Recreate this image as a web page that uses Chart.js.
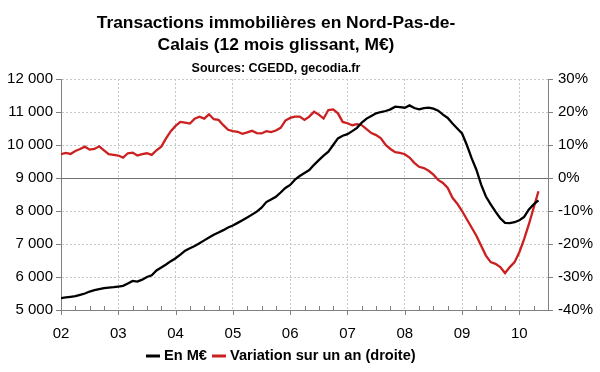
<!DOCTYPE html>
<html><head><meta charset="utf-8">
<script src="https://cdn.jsdelivr.net/npm/chart.js@4.4.1/dist/chart.umd.min.js"></script>
<style>html,body{margin:0;padding:0;background:#fff}#wrap{width:600px;height:372px}</style>
</head><body><div id="wrap"><canvas id="c" width="600" height="372"></canvas></div>
<script>
const titleLines = ["Transactions immobilières en Nord-Pas-de-", "Calais (12 mois glissant, M€)"];
const subtitle = "Sources: CGEDD, gecodia.fr";
const yearLabels = ["02","03","04","05","06","07","08","09","10"];
const legendLabels = ["En M€", "Variation sur un an (droite)"];
// monthly, Jan 2002 .. May 2010
const montant = [5360,5380,5400,5420,5460,5500,5560,5600,5630,5660,5680,5690,
5710,5730,5800,5880,5860,5920,6000,6050,6200,6290,6380,6480,
6570,6680,6800,6870,6940,7020,7110,7200,7280,7350,7420,7500,
7560,7640,7720,7800,7890,7980,8100,8270,8350,8430,8560,8700,
8790,8950,9060,9150,9240,9400,9540,9680,9800,10000,10200,10280,
10330,10420,10520,10680,10800,10880,10960,11000,11030,11080,11160,11150,
11130,11200,11120,11080,11120,11130,11100,11040,10920,10820,10650,10500,
10350,10000,9600,9250,8800,8440,8200,7980,7780,7640,7630,7660,
7720,7820,8050,8200,8320];
const variation = [7.2,7.6,7.3,8.2,8.8,9.5,8.6,8.8,9.6,8.4,7.2,7.0,
6.8,6.2,7.5,7.7,6.8,7.2,7.5,7.0,8.4,9.5,12.0,14.2,
15.8,17.0,16.8,16.5,18.0,18.6,18.0,19.3,17.8,17.6,16.0,14.6,
14.2,14.0,13.4,13.8,14.3,13.6,13.5,14.2,13.9,14.4,15.2,17.4,
18.2,18.6,18.6,17.6,18.6,20.1,19.2,18.0,20.6,20.8,19.6,17.0,
16.6,16.0,16.3,16.0,14.8,13.6,13.0,12.0,10.0,8.8,7.8,7.6,
7.2,6.2,4.6,3.4,3.0,2.2,1.0,-0.6,-1.5,-3.0,-6.0,-7.8,
-10.0,-12.5,-15.0,-17.5,-20.5,-23.5,-25.5,-26.0,-27.0,-28.8,-27.0,-25.5,
-22.5,-18.5,-14.0,-9.0,-4.0];

const FONT = "'Liberation Sans', Arial, sans-serif";
const pts = a => a.map((v,i)=>({x:i,y:v}));

const deco = {
  id:'deco',
  beforeDatasetsDraw(chart){
    const c=chart.ctx, x=chart.scales.x, y1=chart.scales.y1, ca=chart.chartArea;
    c.save();
    c.strokeStyle='#808080'; c.lineWidth=1;
    for(let m=0;m<=102;m+=3){
      const px=Math.round(x.getPixelForValue(m))+0.5;
      c.beginPath();
      if(m%12===0){ c.moveTo(px,ca.bottom); c.lineTo(px,ca.bottom+5); }
      else { c.moveTo(px,ca.bottom); c.lineTo(px,ca.bottom-4); }
      c.stroke();
    }
    const zy=Math.round(y1.getPixelForValue(0))+0.5;
    c.strokeStyle='#707070';
    c.beginPath(); c.moveTo(ca.left,zy); c.lineTo(ca.right,zy); c.stroke();
    c.restore();
  },
  afterDraw(chart){
    const c=chart.ctx;
    c.save();
    c.fillStyle='#000'; c.textAlign='center'; c.textBaseline='alphabetic';
    c.font="bold 17.4px "+FONT;
    c.fillText(titleLines[0],276,28);
    c.fillText(titleLines[1],276,50);
    c.font="bold 12.5px "+FONT;
    c.fillText(subtitle,276,72);
    c.font="bold 14.6px "+FONT;
    c.textAlign='left'; c.textBaseline='middle';
    const ly=356;
    let lx=146;
    const cols=['#000000','#cc1f1f'];
    legendLabels.forEach((t,i)=>{
      c.strokeStyle=cols[i]; c.lineWidth=3;
      c.beginPath(); c.moveTo(lx,ly); c.lineTo(lx+14,ly); c.stroke();
      lx+=18;
      c.fillText(t,lx,ly);
      lx+=c.measureText(t).width+5;
    });
    c.restore();
  }
};

new Chart(document.getElementById('c'),{
  type:'line',
  data:{datasets:[
    {label:legendLabels[0],data:pts(montant),yAxisID:'y',borderColor:'#000',borderWidth:2.3,pointRadius:0,tension:0},
    {label:legendLabels[1],data:pts(variation),yAxisID:'y1',borderColor:'#cc1f1f',borderWidth:2.3,pointRadius:0,tension:0}
  ]},
  options:{
    responsive:false,animation:false,
    layout:{padding:{top:79,left:0,right:0,bottom:0}},
    plugins:{legend:{display:false},tooltip:{enabled:false},title:{display:false}},
    scales:{
      x:{type:'linear',min:0,max:102,
        afterFit(s){s.height=62;},
        afterBuildTicks(s){const t=[];for(let m=0;m<=96;m+=12)t.push({value:m});s.ticks=t;},
        ticks:{autoSkip:false,maxRotation:0,padding:15,color:'#000',font:{family:FONT,size:15},
          callback:v=>yearLabels[v/12]},
        grid:{drawTicks:false,color:'#c8c8c8',lineWidth:1},
        border:{display:true,color:'#808080',width:1,dash:[2,2]}
      },
      y:{position:'left',min:5000,max:12000,
        afterFit(s){s.width=61;},
        ticks:{stepSize:1000,color:'#000',padding:3,font:{family:FONT,size:15},
          callback:v=>{const s=String(v);return s.length>3?s.slice(0,s.length-3)+' '+s.slice(-3):s;}},
        grid:{color:ctx=>ctx.tick&&ctx.tick.value===9000?'rgba(0,0,0,0)':'#c8c8c8',
          tickColor:'#808080',tickLength:5,lineWidth:1},
        border:{display:true,color:'#808080',width:1,dash:[2,2]}
      },
      y1:{position:'right',min:-40,max:30,
        afterFit(s){s.width=52;},
        ticks:{stepSize:10,color:'#000',padding:5,font:{family:FONT,size:15},callback:v=>v+'%'},
        grid:{drawOnChartArea:false,tickColor:'#808080',tickLength:5},
        border:{display:true,color:'#808080',width:1}
      }
    }
  },
  plugins:[deco]
});
</script></body></html>
